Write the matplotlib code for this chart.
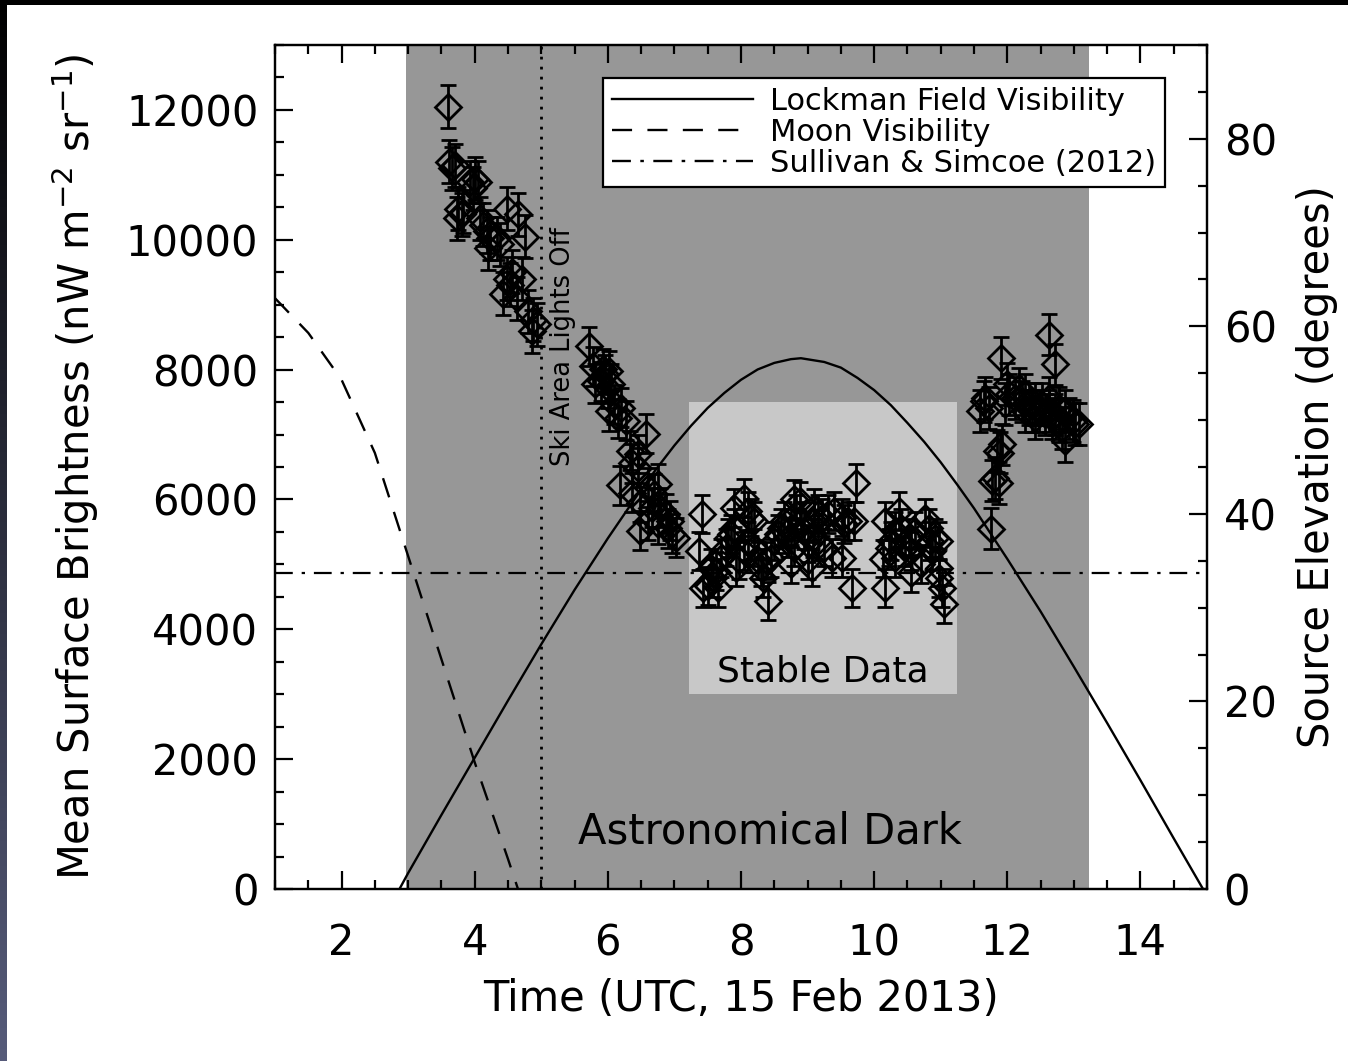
import numpy as np
import matplotlib
matplotlib.use("Agg")
import matplotlib.pyplot as plt
from matplotlib.lines import Line2D
from matplotlib.ticker import MultipleLocator

plt.rcParams['font.family'] = ['DejaVu Sans']
plt.rcParams['mathtext.fontset'] = 'dejavusans'

# ---------------- data ----------------
# cluster A (before ski-area lights off)
tA = [3.60, 3.62, 3.66, 3.70, 3.73, 3.75, 3.81, 3.82, 3.93, 3.98, 4.00, 4.05,
      4.08, 4.13, 4.19, 4.20, 4.23, 4.34, 4.38, 4.43, 4.49, 4.49, 4.53, 4.56,
      4.64, 4.65, 4.71, 4.76, 4.80, 4.86, 4.88, 4.94]
bA = [12050, 11200, 11100, 11150, 10330, 10480, 10390, 10430, 10890, 10790, 10940, 10890,
      10330, 10230, 10130, 9870, 10020, 10020, 9930, 9170, 10480, 9400, 9310, 9510,
      9100, 10390, 9400, 10050, 8900, 8590, 8770, 8700]
eA = 330

# cluster B (after lights off, declining)
tB = [5.72, 5.77, 5.81, 5.89, 5.92, 5.96, 6.00, 6.01, 6.01, 6.04, 6.09, 6.15,
      6.18, 6.19, 6.27, 6.34, 6.37, 6.37, 6.45, 6.46, 6.49, 6.49, 6.57, 6.61,
      6.61, 6.67, 6.69, 6.75, 6.76, 6.79, 6.87, 6.90, 6.94, 6.97, 7.02]
bB = [8360, 8050, 7780, 7820, 8010, 7930, 7710, 7980, 7360, 7780, 7470, 7250,
      6220, 7410, 7210, 6750, 6560, 6100, 6700, 6490, 5950, 5520, 7010, 6180,
      5670, 5870, 6090, 5620, 6240, 5870, 5780, 5560, 5670, 5470, 5410]
eB = 300

# cluster C (stable data)
tC = [7.37, 7.41, 7.43, 7.50, 7.55, 7.58, 7.62, 7.65, 7.70, 7.77, 7.80, 7.85,
      7.90, 7.90, 7.92, 7.97, 8.05, 8.05, 8.10, 8.11, 8.15, 8.20, 8.20, 8.25,
      8.30, 8.33, 8.38, 8.41, 8.45, 8.50, 8.56, 8.60, 8.65, 8.70, 8.75, 8.75,
      8.80, 8.80, 8.83, 8.88, 8.90, 8.95, 9.00, 9.00, 9.06, 9.08, 9.10, 9.10,
      9.16, 9.16, 9.21, 9.25, 9.31, 9.36, 9.40, 9.51, 9.51, 9.55, 9.61, 9.66,
      9.70, 9.73,
      10.14, 10.16, 10.16, 10.22, 10.26, 10.31, 10.31, 10.38, 10.41, 10.46,
      10.52, 10.56, 10.56, 10.61, 10.71, 10.76, 10.82, 10.84, 10.87, 10.91,
      10.97, 10.97, 10.97, 11.02, 11.05]
bC = [5210, 5780, 4640, 4670, 4950, 4790, 4900, 4640, 5100, 5260, 5410, 5470,
      5560, 5870, 4950, 5060, 6020, 5210, 5360, 5820, 5720, 5670, 5260, 5060,
      4950, 4790, 5060, 4440, 5100, 5360, 5470, 5560, 5670, 5410, 5560, 5010,
      6010, 5260, 5780, 5980, 5670, 5520, 5320, 5060, 4950, 5410, 5670, 5870,
      5780, 5360, 5720, 5260, 5780, 5100, 5820, 5720, 5100, 5620, 5670, 4640,
      5670, 6250,
      5090, 5670, 4640, 5260, 5360, 5520, 5100, 5820, 5560, 5260,
      5410, 5210, 4860, 5520, 5010, 5720, 5560, 5360, 5210, 5410,
      5360, 4950, 4790, 4640, 4390]
eC = 290

# cluster D (late night)
tD = [11.59, 11.65, 11.66, 11.72, 11.75, 11.77, 11.81, 11.84, 11.87, 11.89, 11.90,
      11.92, 11.97, 12.00, 12.03, 12.12, 12.18, 12.22, 12.27, 12.27, 12.33, 12.37,
      12.42, 12.42, 12.48, 12.52, 12.57, 12.63, 12.63, 12.63, 12.67, 12.72, 12.72,
      12.78, 12.78, 12.82, 12.87, 12.87, 12.93, 12.98, 13.02, 13.08]
bD = [7360, 7510, 7560, 7410, 5550, 6290, 6330, 6750, 6250, 6720, 8180,
      6850, 7470, 7780, 7620, 7560, 7710, 7510, 7620, 7360, 7470, 7360,
      7470, 7250, 7360, 7470, 7310, 8540, 7560, 7360, 7250, 8080, 7310,
      7410, 7210, 7100, 7360, 6900, 7250, 7210, 7160, 7160]
eD = 320

# Lockman field elevation (degrees)
t_lock = [2.87, 3.0, 3.5, 4.0, 4.5, 5.0, 5.5, 6.0, 6.5, 6.75, 7.0, 7.25, 7.5, 7.75,
          8.0, 8.25, 8.5, 8.75, 8.9, 9.25, 9.5, 9.75, 10.0, 10.25, 10.5, 10.75,
          11.0, 11.25, 11.5, 12.0, 12.5, 13.0, 13.5, 14.0, 14.5, 14.94]
el_lock = [0.0, 1.7, 7.9, 14.0, 20.1, 26.1, 31.9, 37.4, 42.6, 45.0, 47.3, 49.4, 51.3, 52.9,
           54.3, 55.4, 56.1, 56.5, 56.6, 56.2, 55.6, 54.5, 53.2, 51.6, 49.7, 47.7,
           45.5, 43.1, 40.6, 35.2, 29.6, 23.7, 17.7, 11.6, 5.4, 0.0]

# Moon elevation (degrees)
t_moon = [1.0, 1.5, 2.0, 2.5, 3.0, 3.5, 4.0, 4.5, 4.65]
el_moon = [63.0, 59.3, 54.3, 46.5, 35.5, 24.5, 13.5, 3.2, 0.0]

legend_labels = ['Lockman Field Visibility', 'Moon Visibility', 'Sullivan & Simcoe (2012)']

sullivan_level = 4870
dark_start, dark_end = 2.97, 13.22
stable_t0, stable_t1 = 7.22, 11.24
stable_b0, stable_b1 = 3000, 7500
lights_off = 5.0

# ---------------- figure ----------------
fig = plt.figure(figsize=(13.48, 10.61), dpi=100)
fig.patch.set_facecolor('white')

ax = fig.add_axes([275/1348, 1-889/1061, (1207-275)/1348, (889-45)/1061])
ax2 = ax.twinx()

ax.set_xlim(1, 15)
ax.set_ylim(0, 13000)
ax2.set_ylim(0, 90)

ax.axvspan(dark_start, dark_end, color='#979797', lw=0, zorder=0)
ax.fill_between([stable_t0, stable_t1], stable_b0, stable_b1, color='#c8c8c8', lw=0, zorder=0.5)

dash_moon = (0, (8.5, 6.5))
dash_sull = (0, (8, 4, 1.5, 4))

ax.axvline(lights_off, color='black', ls=(0, (1, 2.6)), lw=2.0, zorder=1)
ax.axhline(sullivan_level, color='black', ls=dash_sull, lw=1.6, zorder=1)

for tt, bb, ee in [(tA, bA, eA), (tB, bB, eB), (tC, bC, eC), (tD, bD, eD)]:
    ax.errorbar(tt, bb, yerr=ee, fmt='D', ms=13, mfc='none', mec='black', mew=2.0,
                ecolor='black', elinewidth=2.0, capsize=5.5, capthick=2.0, zorder=3)

ax.text(5.33, 6515, 'Ski Area Lights Off', rotation=90, ha='center', va='bottom',
        fontsize=18.5, zorder=4)
ax.text(8.43, 880, 'Astronomical Dark', ha='center', va='center', fontsize=30, zorder=4)
ax.text(9.23, 3350, 'Stable Data', ha='center', va='center', fontsize=26, zorder=4)

ax2.plot(t_lock, el_lock, color='black', lw=1.7, zorder=2)
ax2.plot(t_moon, el_moon, color='black', lw=1.7, ls=dash_moon, zorder=2)

handles = [Line2D([], [], color='black', lw=1.7),
           Line2D([], [], color='black', lw=1.7, ls=dash_moon),
           Line2D([], [], color='black', lw=1.7, ls=dash_sull)]
leg = ax2.legend(handles, legend_labels,
                 loc='upper right', bbox_to_anchor=(0.955, 0.961), fontsize=22,
                 frameon=True, fancybox=False, framealpha=1, edgecolor='black',
                 handlelength=4.6, handletextpad=0.55, labelspacing=0.06,
                 borderpad=0.3, borderaxespad=0)
leg.get_frame().set_linewidth(1.6)

# ticks
ax.set_xticks([2, 4, 6, 8, 10, 12, 14])
ax.xaxis.set_minor_locator(MultipleLocator(0.5))
ax.yaxis.set_major_locator(MultipleLocator(2000))
ax.yaxis.set_minor_locator(MultipleLocator(500))
ax2.yaxis.set_major_locator(MultipleLocator(20))
ax2.yaxis.set_minor_locator(MultipleLocator(5))

for a in (ax, ax2):
    for s in a.spines.values():
        s.set_linewidth(1.6)
ax.tick_params(axis='x', which='both', direction='in', top=True, bottom=True, width=1.6,
               labelsize=30, pad=24)
ax.tick_params(axis='y', which='both', direction='in', left=True, right=False, width=1.6,
               labelsize=30, pad=12)
ax2.tick_params(axis='y', which='both', direction='in', right=True, left=False, width=1.6,
                labelsize=30, pad=12)
for a in (ax, ax2):
    a.tick_params(which='major', length=13)
    a.tick_params(which='minor', length=6.5)

ax.set_xlabel('Time (UTC, 15 Feb 2013)', fontsize=30, labelpad=10)
ax.set_ylabel(r'Mean Surface Brightness (nW m$^{-2}$ sr$^{-1}$)', fontsize=30, labelpad=18)
ax2.set_ylabel('Source Elevation (degrees)', fontsize=30, labelpad=14)

# screenshot border (black top strip, dark gradient left strip)
top = fig.add_axes([0, 1-5/1061, 1, 5/1061])
top.axis('off')
top.add_patch(plt.Rectangle((0, 0), 1, 1, color='black', transform=top.transAxes))
left = fig.add_axes([0, 0, 7/1348, 1])
grad = np.linspace(0, 1, 256)[:, None, None] * np.array([[[0.34, 0.36, 0.48]]])
left.imshow(grad, aspect='auto', extent=[0, 1, 0, 1], origin='upper')
left.axis('off')

fig.savefig('out.png', dpi=100)
